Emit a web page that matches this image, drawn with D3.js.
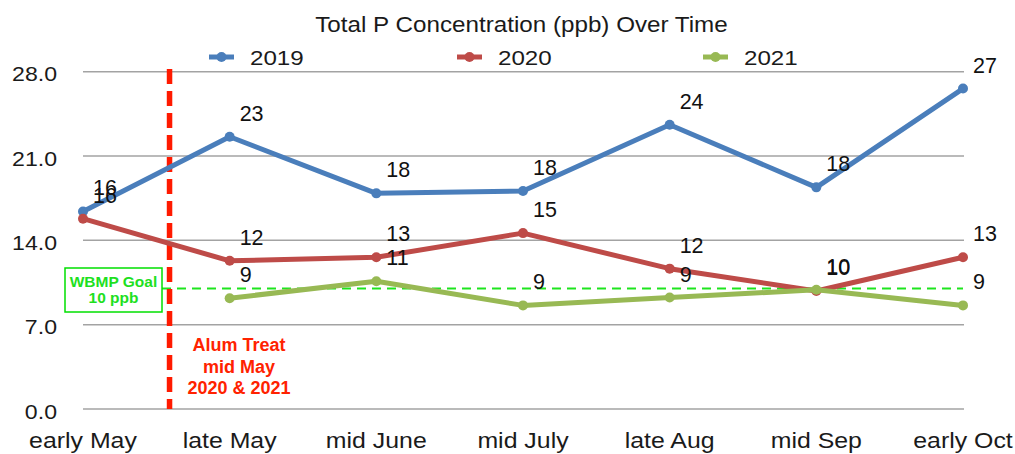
<!DOCTYPE html>
<html>
<head>
<meta charset="utf-8">
<script src="https://cdn.jsdelivr.net/npm/d3@7"></script>
<style>
  html, body { margin: 0; padding: 0; background: #fff; }
  svg { display: block; font-family: "Liberation Sans", Arial, sans-serif; }
</style>
</head>
<body>
<svg id="chart" width="1015" height="454"></svg>
<script>
// ---- data ----
const titleText = "Total P Concentration (ppb) Over Time";
const categories = ["early May", "late May", "mid June", "mid July", "late Aug", "mid Sep", "early Oct"];
const seriesNames = ["2019", "2020", "2021"];
const values2019 = [16.4, 22.6, 17.9, 18.1, 23.6, 18.4, 26.6];
const values2020 = [15.8, 12.3, 12.6, 14.6, 11.65, 9.8, 12.6];
const values2021 = [null, 9.2, 10.6, 8.6, 9.25, 9.9, 8.6];
const yTicks = [0, 7, 14, 21, 28];
const goalValue = 10;
const goalLabel = ["WBMP Goal", "10 ppb"];
const treatmentAfter = "early May";   // alum treatment happened between early May and late May
const treatmentFraction = 0.59;
const treatmentLabel = ["Alum Treat", "mid May", "2020 & 2021"];

const colors = ["#4a7ebb", "#be4b48", "#98b954"];

// ---- setup ----
const svg = d3.select("#chart");
const x = d3.scalePoint().domain(categories).range([83, 963]);
const y = d3.scaleLinear().domain([0, 28]).range([409, 71.7]);
const step = x.step();

function stretch(sel, factor) {
  sel.each(function () {
    const w = this.getComputedTextLength();
    d3.select(this).attr("textLength", w * factor).attr("lengthAdjust", "spacingAndGlyphs");
  });
}

// gridlines
svg.append("g").selectAll("line").data(yTicks).join("line")
  .attr("x1", x(categories[0])).attr("x2", x(categories[categories.length - 1]) + 1)
  .attr("y1", d => y(d)).attr("y2", d => y(d))
  .attr("stroke", "#a3a3a3").attr("stroke-width", 1.5);

// y axis labels
const yLab = svg.append("g").selectAll("text").data(yTicks).join("text")
  .attr("x", 57).attr("y", d => y(d) + 9.5)
  .attr("text-anchor", "end").attr("font-size", 21).attr("fill", "#1a1a1a")
  .text(d3.format(".1f"));
stretch(yLab, 1.1);

// x axis labels
const xLab = svg.append("g").selectAll("text").data(categories).join("text")
  .attr("x", d => x(d)).attr("y", 448)
  .attr("text-anchor", "middle").attr("font-size", 22).attr("fill", "#1a1a1a")
  .text(d => d);
stretch(xLab, 1.13);

// title
const title = svg.append("text").attr("x", 521.5).attr("y", 32)
  .attr("text-anchor", "middle").attr("font-size", 22).attr("fill", "#1a1a1a")
  .text(titleText);
stretch(title, 1.1);

// legend
const legendX = [209, 457, 703];
const legend = svg.append("g").selectAll("g").data(seriesNames).join("g")
  .attr("transform", (d, i) => `translate(${legendX[i]},57)`);
legend.append("line").attr("x1", 0).attr("x2", 25).attr("y1", 0).attr("y2", 0)
  .attr("stroke", (d, i) => colors[i]).attr("stroke-width", 5);
legend.append("circle").attr("cx", 12.5).attr("cy", 0).attr("r", 5)
  .attr("fill", (d, i) => colors[i]);
const legText = legend.append("text").attr("x", 41).attr("y", 8)
  .attr("font-size", 21).attr("fill", "#1a1a1a").text(d => d);
stretch(legText, 1.15);

// goal line
const goalY = y(goalValue);
svg.append("line")
  .attr("x1", 162).attr("x2", x(categories[categories.length - 1]))
  .attr("y1", goalY).attr("y2", goalY)
  .attr("stroke", "#1ee51e").attr("stroke-width", 2).attr("stroke-dasharray", "9,6");

// goal box
svg.append("rect").attr("x", 65).attr("y", 268).attr("width", 97).attr("height", 44)
  .attr("fill", "#fff").attr("stroke", "#00e000").attr("stroke-width", 1.5);
svg.append("g").selectAll("text").data(goalLabel).join("text")
  .attr("x", 113.5).attr("y", (d, i) => 287 + i * 16)
  .attr("text-anchor", "middle").attr("font-size", 15.5).attr("font-weight", "bold")
  .attr("fill", "#1ee01e").text(d => d);

// treatment line
const tx = x(treatmentAfter) + step * treatmentFraction;
svg.append("line").attr("x1", tx).attr("x2", tx).attr("y1", 69).attr("y2", y(0))
  .attr("stroke", "#ff1a00").attr("stroke-width", 5.5).attr("stroke-dasharray", "15,7");
svg.append("g").selectAll("text").data(treatmentLabel).join("text")
  .attr("x", 239).attr("y", (d, i) => 351 + i * 21.5)
  .attr("text-anchor", "middle").attr("font-size", 18).attr("font-weight", "bold")
  .attr("fill", "#ff2200").text(d => d);

// series
const allSeries = [values2019, values2020, values2021];
const line = d3.line()
  .defined(d => d.v != null)
  .x(d => x(d.c)).y(d => y(d.v));
const fmt = d3.format(".0f");

allSeries.forEach((vals, i) => {
  const pts = vals.map((v, j) => ({ c: categories[j], v }));
  const g = svg.append("g");
  g.append("path").datum(pts).attr("d", line)
    .attr("fill", "none").attr("stroke", colors[i]).attr("stroke-width", 5)
    .attr("stroke-linejoin", "round").attr("stroke-linecap", "round");
  const valid = pts.filter(d => d.v != null);
  g.selectAll("circle").data(valid).join("circle")
    .attr("cx", d => x(d.c)).attr("cy", d => y(d.v)).attr("r", 5)
    .attr("fill", colors[i]);
});

allSeries.forEach((vals, i) => {
  const pts = vals.map((v, j) => ({ c: categories[j], v })).filter(d => d.v != null);
  svg.append("g").selectAll("text").data(pts).join("text")
    .attr("x", d => x(d.c) + 10).attr("y", d => y(d.v) - 16)
    .attr("font-size", 21.5).attr("fill", "#111")
    .text(d => fmt(d.v));
});
</script>
</body>
</html>
